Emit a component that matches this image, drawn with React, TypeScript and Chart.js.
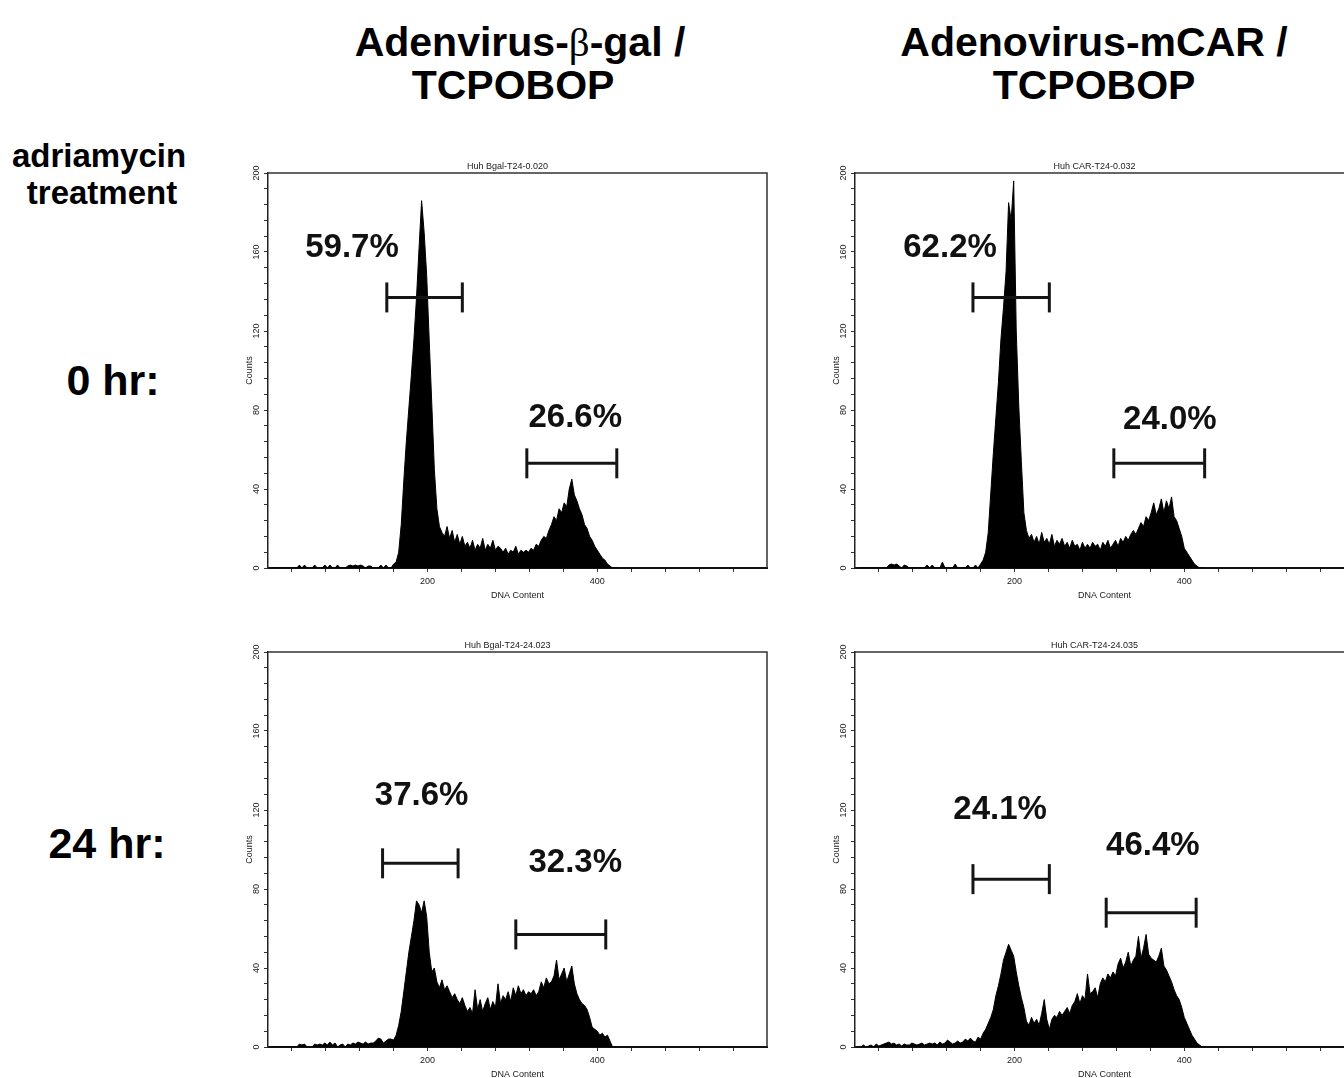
import React, { useEffect, useRef } from "react";
import { Chart, registerables } from "chart.js";

Chart.register(...registerables);

// ---- DNA content channels (x categories) ----
const channels = [
  16, 19, 22, 25, 28, 31, 34, 37, 40, 43,
  46, 49, 52, 55, 58, 61, 64, 67, 70, 73,
  76, 79, 82, 85, 88, 91, 94, 97, 100, 103,
  106, 109, 112, 115, 118, 121, 124, 127, 130, 133,
  136, 139, 142, 145, 148, 151, 154, 157, 160, 163,
  166, 169, 172, 175, 178, 181, 184, 187, 190, 193,
  196, 199, 202, 205, 208, 211, 214, 217, 220, 223,
  226, 229, 232, 235, 238, 241, 244, 247, 250, 253,
  256, 259, 262, 265, 268, 271, 274, 277, 280, 283,
  286, 289, 292, 295, 298, 301, 304, 307, 310, 313,
  316, 319, 322, 325, 328, 331, 334, 337, 340, 343,
  346, 349, 352, 355, 358, 361, 364, 367, 370, 373,
  376, 379, 382, 385, 388, 391, 394, 397, 400, 403,
  406, 409, 412, 415, 418, 421, 424,
];

// ---- counts per channel ----
const countsBgal0h = [
  0, 0, 0, 0, 0, 0, 0, 0, 0, 0,
  0, 1.5, 0, 1.5, 0, 0, 0, 1.5, 0, 0,
  0, 1.5, 0, 1.5, 0, 0, 1.5, 0, 0, 0,
  1, 1.5, 1, 1.5, 1, 1.5, 1, 0, 1, 1,
  0, 0, 0, 1.5, 0, 1.5, 0, 0, 2, 3,
  8, 22, 44, 64, 81, 98, 116, 137, 162, 186,
  170, 148, 115, 83, 50, 30, 21, 18, 16, 21,
  15, 19, 13, 17, 12, 16, 11, 13, 10, 14,
  9, 12, 10, 15, 9, 12, 10, 14, 9, 11,
  10, 8, 10, 7, 9, 8, 11, 7, 9, 8,
  9, 8, 10, 9, 12, 11, 14, 16, 15, 19,
  22, 26, 24, 30, 28, 33, 31, 40, 45, 37,
  34, 30, 27, 22, 20, 16, 14, 11, 9, 7,
  5, 4, 2, 1, 0, 0, 0,
];

const countsCar0h = [
  0, 0, 0, 0, 0, 0, 0, 0, 0, 0,
  0, 0, 1.5, 2, 1.5, 2, 1, 0, 1.5, 1,
  0, 0, 0, 0, 0, 0, 0, 1.5, 0, 1.5,
  0, 0, 0, 3, 0, 0, 0, 0, 2, 0,
  0, 0, 0, 1.5, 0, 0, 1.5, 0, 2, 4,
  8, 18, 38, 58, 76, 94, 116, 132, 150, 185,
  176, 196, 120, 82, 54, 28, 19, 15, 17, 13,
  16, 12, 18, 13, 15, 12, 17, 11, 14, 12,
  15, 11, 13, 10, 14, 11, 12, 9, 13, 10,
  12, 10, 13, 11, 12, 9, 13, 11, 14, 10,
  12, 14, 11, 15, 13, 16, 14, 17, 19, 17,
  20, 23, 21, 26, 24, 28, 33, 27, 30, 35,
  28, 34, 30, 36, 26, 24, 20, 16, 10, 8,
  6, 4, 2, 1, 0, 0, 0,
];

const countsBgal24h = [
  0, 0, 0, 0, 0, 0, 0, 0, 0, 0,
  0, 1.5, 1, 1.5, 0, 0, 0, 1.5, 1, 1.5,
  1, 2, 1, 2.5, 1, 2, 0, 1, 1.5, 0,
  1.5, 1, 2, 1.5, 2.5, 2, 1.5, 2.5, 1.5, 2,
  2, 3, 4.5, 4, 2, 3, 4, 4, 3.5, 6,
  11, 18, 28, 38, 48, 56, 64, 74, 72, 68,
  74, 66, 48, 38, 40, 33, 30, 34, 29, 31,
  28, 25, 27, 24, 22, 25, 21, 18, 20, 17,
  29, 19, 24, 18, 22, 25, 19, 23, 20, 32,
  22, 26, 24, 28, 23, 30, 26, 31, 27, 29,
  26, 28, 27, 29, 26, 28, 33, 30, 35, 32,
  33, 36, 44, 34, 37, 40, 33, 37, 41, 32,
  27, 24, 22, 21, 19, 15, 10, 9, 8, 6,
  7, 5, 6, 3, 0, 0, 0,
];

const countsCar24h = [
  0, 0, 1, 0, 0.5, 1, 0, 1.5, 0.5, 1,
  1.5, 2, 2.5, 1.5, 2, 1, 1.5, 0.5, 1.5, 1,
  1, 2, 1.5, 1, 1.5, 2, 1, 1.5, 2, 1.5,
  2, 1, 2.5, 1.5, 2, 3.5, 2.5, 1.5, 2, 3,
  2, 2.5, 4, 3, 4.5, 3, 2.5, 5, 4, 7,
  9, 12, 15, 19, 26, 31, 37, 44, 48, 52,
  49, 46, 38, 31, 25, 20, 13, 11, 15, 12,
  14, 11, 17, 24, 14, 9, 14, 16, 15, 18,
  16, 18, 20, 17, 21, 23, 27, 22, 26, 24,
  37, 27, 28, 30, 25, 32, 35, 33, 37, 35,
  38, 36, 42, 45, 40, 43, 48, 41, 44, 46,
  56, 45, 50, 57, 47, 45, 44, 43, 46, 50,
  41, 39, 36, 33, 29, 26, 24, 20, 15, 12,
  9, 6, 4, 2, 1, 0, 0,
];

// ---- axes ----
const dnaMin = 12;
const dnaMax = 600;
const dnaTicks = [40, 80, 120, 160, 200, 240, 280, 320, 360, 400, 440, 480, 520, 560];
const dnaTickLabels = [200, 400];
const countMax = 200;
const countStep = 8;
const countTickLabels = [0, 40, 80, 120, 160, 200];

// ---- panel titles ----
const panelTitles = [
  "Huh Bgal-T24-0.020",
  "Huh CAR-T24-0.032",
  "Huh Bgal-T24-24.023",
  "Huh CAR-T24-24.035",
];

// ---- gates: [from, to, drawn at count level] ----
const gatesBgal0h = [[152, 241, 137], [317, 423, 53]];
const gatesCar0h = [[151, 241, 137], [317, 424, 53]];
const gatesBgal24h = [[147, 236, 93], [304, 410, 57]];
const gatesCar24h = [[151, 241, 85], [308, 414, 68]];

// ---- gate percentages and their anchor (DNA content, count) ----
const pctBgal0h = ["59.7%", "26.6%"];
const pctAtBgal0h = [[111, 162], [374, 76]];
const pctCar0h = ["62.2%", "24.0%"];
const pctAtCar0h = [[124, 162], [383, 75]];
const pctBgal24h = ["37.6%", "32.3%"];
const pctAtBgal24h = [[193, 127], [374, 93]];
const pctCar24h = ["24.1%", "46.4%"];
const pctAtCar24h = [[183, 120], [363, 102]];

const FONT = "'Liberation Sans', Arial, Helvetica, sans-serif";
const INK = "#1a1a1a";

const framePlugin = {
  id: "frame",
  afterDraw(chart: any) {
    const { ctx, chartArea } = chart;
    ctx.save();
    ctx.strokeStyle = "#333";
    ctx.lineWidth = 1.5;
    ctx.beginPath();
    ctx.moveTo(chartArea.left, chartArea.top);
    ctx.lineTo(chartArea.right, chartArea.top);
    ctx.lineTo(chartArea.right, chartArea.bottom);
    ctx.stroke();
    ctx.restore();
  },
};

const pctPlugin = {
  id: "pct",
  afterDatasetsDraw(chart: any, _args: any, opts: any) {
    const { ctx, scales } = chart;
    ctx.save();
    ctx.fillStyle = "#111";
    ctx.font = `bold 33px ${FONT}`;
    ctx.textAlign = "center";
    ctx.textBaseline = "middle";
    (opts.texts || []).forEach((t: string, i: number) => {
      const p = opts.at[i];
      ctx.fillText(t, scales.x.getPixelForValue(p[0]), scales.y.getPixelForValue(p[1]));
    });
    ctx.restore();
  },
};

type PanelProps = {
  left: number;
  top: number;
  title: string;
  counts: number[];
  gates: number[][];
  texts: string[];
  at: number[][];
};

const CW = 559;
const CH = 468;

function Histogram({ left, top, title, counts, gates, texts, at }: PanelProps) {
  const ref = useRef<HTMLCanvasElement>(null);
  useEffect(() => {
    const canvas = ref.current;
    if (!canvas) return;
    const datasets: any[] = gates.map((g) => ({
      type: "line",
      data: [
        { x: g[0], y: g[2] },
        { x: g[1], y: g[2] },
      ],
      borderColor: "#151515",
      borderWidth: 3,
      pointStyle: "line",
      pointRotation: 90,
      pointRadius: 15,
      pointHoverRadius: 15,
      pointBorderWidth: 3,
      pointBorderColor: "#151515",
      fill: false,
      clip: false,
      order: 0,
    }));
    datasets.push({
      type: "line",
      data: counts.map((c, i) => ({ x: channels[i], y: c })),
      borderColor: "#000",
      backgroundColor: "#000",
      borderWidth: 1,
      pointRadius: 0,
      fill: "origin",
      tension: 0,
      order: 1,
    });
    const chart = new Chart(canvas, {
      type: "line",
      data: { datasets },
      options: {
        animation: false,
        responsive: false,
        devicePixelRatio: 1,
        layout: { padding: 0 },
        events: [],
        plugins: {
          legend: { display: false },
          tooltip: { enabled: false },
          title: {
            display: true,
            text: title,
            color: INK,
            font: { family: FONT, size: 9, weight: "normal" },
            padding: { top: 23, bottom: 1.2 },
          },
          pct: { texts, at },
        } as any,
        scales: {
          x: {
            type: "linear",
            min: dnaMin,
            max: dnaMax,
            afterBuildTicks: (axis: any) => {
              axis.ticks = dnaTicks.map((v) => ({ value: v }));
            },
            afterFit: (axis: any) => {
              axis.height = 38;
            },
            ticks: {
              autoSkip: false,
              minRotation: 0,
              maxRotation: 0,
              padding: 4,
              color: INK,
              font: { family: FONT, size: 9 },
              callback: (v: any) => (dnaTickLabels.includes(Number(v)) ? String(v) : ""),
            },
            grid: { drawOnChartArea: false, drawTicks: true, tickLength: 4, color: "#333", tickWidth: 1 },
            border: { display: true, color: "#111", width: 2 },
            title: {
              display: true,
              text: "DNA Content",
              color: INK,
              font: { family: FONT, size: 9 },
              padding: { top: 0, bottom: 5 },
            },
          },
          y: {
            type: "linear",
            position: "left",
            min: 0,
            max: countMax,
            afterFit: (axis: any) => {
              axis.width = 40;
            },
            ticks: {
              stepSize: countStep,
              autoSkip: false,
              minRotation: 90,
              maxRotation: 90,
              crossAlign: "center",
              padding: 0,
              color: INK,
              font: { family: FONT, size: 9 },
              callback: (v: any) => {
                const n = Math.round(Number(v));
                return countTickLabels.includes(n) ? String(n) : "";
              },
            },
            grid: { drawOnChartArea: false, drawTicks: true, tickLength: 4, color: "#333", tickWidth: 1 },
            border: { display: true, color: "#222", width: 1.5 },
            title: {
              display: true,
              text: "Counts",
              color: INK,
              font: { family: FONT, size: 9 },
              padding: { top: 16, bottom: 0 },
            },
          },
          yRightSpace: {
            type: "linear",
            position: "right",
            min: 0,
            max: countMax,
            afterFit: (axis: any) => {
              axis.width = 20;
            },
            ticks: { display: false },
            grid: { display: false, drawTicks: false },
            border: { display: false },
          },
        },
      } as any,
      plugins: [framePlugin, pctPlugin],
    });
    return () => chart.destroy();
  }, [title, counts, gates, texts, at]);
  return (
    <canvas
      ref={ref}
      width={CW}
      height={CH}
      style={{ position: "absolute", left, top, width: CW, height: CH }}
    />
  );
}

const textBase: React.CSSProperties = {
  position: "absolute",
  fontFamily: FONT,
  fontWeight: "bold",
  color: "#000",
  whiteSpace: "nowrap",
  transform: "translate(-50%, -50%)",
  lineHeight: 1,
};

function Label({ x, y, size, children }: { x: number; y: number; size: number; children: React.ReactNode }) {
  return <div style={{ ...textBase, left: x, top: y, fontSize: size }}>{children}</div>;
}

export default function App() {
  return (
    <div
      style={{
        position: "absolute",
        left: 0,
        top: 0,
        width: 1344,
        height: 1078,
        overflow: "hidden",
        background: "#fff",
      }}
    >
      <Label x={520} y={42} size={41}>
        Adenvirus-<span style={{ fontFamily: "'Liberation Serif', 'DejaVu Serif', serif", fontWeight: "normal" }}>β</span>-gal /
      </Label>
      <Label x={513} y={85} size={41}>TCPOBOP</Label>
      <Label x={1094} y={42} size={41}>Adenovirus-mCAR /</Label>
      <Label x={1094} y={85} size={41}>TCPOBOP</Label>
      <Label x={99} y={155} size={33}>adriamycin</Label>
      <Label x={102} y={192} size={33}>treatment</Label>
      <Label x={113} y={380} size={43}>0 hr:</Label>
      <Label x={107} y={843} size={43}>24 hr:</Label>

      <Histogram left={228} top={138} title={panelTitles[0]} counts={countsBgal0h} gates={gatesBgal0h} texts={pctBgal0h} at={pctAtBgal0h} />
      <Histogram left={815} top={138} title={panelTitles[1]} counts={countsCar0h} gates={gatesCar0h} texts={pctCar0h} at={pctAtCar0h} />
      <Histogram left={228} top={617} title={panelTitles[2]} counts={countsBgal24h} gates={gatesBgal24h} texts={pctBgal24h} at={pctAtBgal24h} />
      <Histogram left={815} top={617} title={panelTitles[3]} counts={countsCar24h} gates={gatesCar24h} texts={pctCar24h} at={pctAtCar24h} />
    </div>
  );
}
